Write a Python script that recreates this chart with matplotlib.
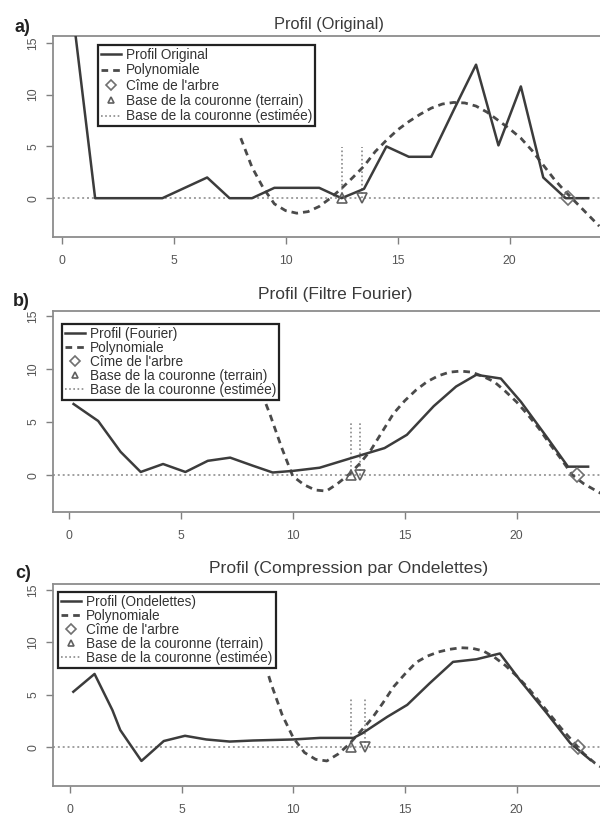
import numpy as np
import matplotlib.pyplot as plt

plt.rcParams['font.family'] = ['Liberation Sans', 'DejaVu Sans']

# a) profil original
orig_x = [0.5, 1.5, 2.5, 3.5, 4.5, 5.5, 6.5, 7.5, 8.5, 9.5, 10.5, 11.5,
          12.5, 13.5, 14.5, 15.5, 16.5, 17.5, 18.5, 19.5, 20.5, 21.5, 22.5, 23.5]
orig_y = [18.0, 0, 0, 0, 0, 1.0, 2.0, 0, 0, 1.0, 1.0, 1.0,
          0, 0.9, 5.0, 4.0, 4.0, 8.5, 12.9, 5.1, 10.8, 2.0, 0, 0]
poly_a_x = [8.0, 8.5, 9.0, 9.5, 10.0, 10.5, 11.0, 11.5, 12.0, 12.5, 13.0, 13.5,
            14.0, 14.5, 15.0, 15.5, 16.0, 16.5, 17.0, 17.5, 18.0, 18.5, 19.0,
            19.5, 20.0, 20.5, 21.0, 21.5, 22.0, 22.5, 23.0, 23.5, 24.0]
poly_a_y = [5.8, 3.0, 1.0, -0.55, -1.2, -1.45, -1.3, -0.8, 0.0, 0.95, 2.0, 3.1,
            4.5, 5.6, 6.6, 7.4, 8.1, 8.7, 9.1, 9.25, 9.2, 8.9, 8.3,
            7.5, 6.7, 5.8, 4.6, 3.2, 1.8, 0.6, -0.5, -1.6, -2.7]

# b) filtre de Fourier
fourier_x = [0.2, 1.3, 2.3, 3.2, 4.2, 5.2, 6.2, 7.2, 8.2, 9.1, 10.0, 11.2,
             12.6, 14.1, 15.1, 16.3, 17.3, 18.2, 19.3, 20.2, 21.4, 22.3, 23.2]
fourier_y = [6.7, 5.1, 2.2, 0.3, 1.05, 0.3, 1.35, 1.65, 0.9, 0.25, 0.4, 0.7,
             1.6, 2.55, 3.8, 6.5, 8.35, 9.45, 9.1, 6.9, 3.45, 0.8, 0.8]
poly_b_x = [8.8, 9.0, 9.5, 10.0, 10.5, 11.0, 11.5, 12.0, 12.5, 13.0, 13.5,
            14.0, 14.5, 15.0, 15.5, 16.0, 16.5, 17.0, 17.5, 18.0, 18.5, 19.0,
            19.5, 20.0, 20.5, 21.0, 21.5, 22.0, 22.5, 23.0, 23.5, 23.8]
poly_b_y = [6.7, 5.6, 2.6, -0.1, -0.9, -1.4, -1.5, -0.8, 0.05, 1.1, 2.4,
            4.1, 5.8, 7.0, 8.0, 8.8, 9.35, 9.7, 9.8, 9.7, 9.3, 8.8,
            7.9, 6.9, 5.7, 4.4, 2.9, 1.5, 0.0, -0.8, -1.4, -1.75]

# c) compression par ondelettes
ondel_x = [0.15, 1.1, 1.9, 2.25, 3.2, 4.2, 5.15, 6.1, 7.15, 8.2, 9.1, 10.0,
           11.2, 12.7, 13.1, 14.2, 15.1, 16.1, 17.15, 18.2, 19.25, 20.15,
           21.35, 22.4, 23.3]
ondel_y = [5.3, 7.0, 3.55, 1.65, -1.3, 0.6, 1.1, 0.75, 0.55, 0.65, 0.7, 0.75,
           0.9, 0.9, 1.35, 2.9, 4.05, 6.1, 8.15, 8.4, 8.95, 6.4,
           3.25, 0.4, -1.2]
poly_c_x = [8.9, 9.0, 9.5, 10.0, 10.5, 11.0, 11.5, 12.0, 12.5, 13.0, 13.5,
            14.0, 14.5, 15.0, 15.5, 16.0, 16.5, 17.0, 17.5, 18.0, 18.5, 19.0,
            19.5, 20.0, 20.5, 21.0, 21.5, 22.0, 22.5, 23.0, 23.5, 23.75]
poly_c_y = [6.8, 6.1, 3.1, 0.9, -0.5, -1.15, -1.3, -0.65, 0.3, 1.5, 2.7,
            4.2, 5.8, 7.0, 8.1, 8.7, 9.1, 9.35, 9.5, 9.45, 9.2, 8.6,
            7.8, 6.8, 5.7, 4.4, 3.1, 1.8, 0.6, -0.6, -1.5, -1.85]

# base de la couronne (terrain / estimée), cîme, hauteur des traits verticaux
base_terrain_x = [12.5, 12.6, 12.6]
base_estimee_x = [13.4, 13.0, 13.2]
cime_x = [22.6, 22.7, 22.75]
vline_top = [4.9, 5.0, 4.8]

profil_labels = ['Profil Original', 'Profil (Fourier)', 'Profil (Ondelettes)']
titles = ['Profil (Original)', 'Profil (Filtre Fourier)',
          'Profil (Compression par Ondelettes)']
panel_tags = ['a)', 'b)', 'c)']
legend_entries = ['Polynomiale', "Cîme de l'arbre",
                  'Base de la couronne (terrain)', 'Base de la couronne (estimée)']
x_ticks = [0, 5, 10, 15, 20]
y_ticks = [0, 5, 10, 15]

W, H = 600, 816
fig = plt.figure(figsize=(W / 100, H / 100), dpi=100)

# pixel boxes: left, top, bottom ; limits
boxes = [(53, 36, 237), (53, 311, 512), (53, 584, 786)]
xlims = [(-0.38, 24.3), (-0.72, 24.0), (-0.76, 24.0)]
ylims = [(-3.75, 15.67), (-3.47, 15.46), (-3.69, 15.58)]
title_pos = [(329, 24, 11.8), (335, 295, 12.5), (349, 569, 12.6)]
tag_pos = [(22, 27), (21, 302), (23, 573)]
legend_anchor = [(0.081, 0.955), (0.016, 0.935), (0.009, 0.96)]
legend_spacing = [0.1, 0.0, 0.0]

series = [(orig_x, orig_y, poly_a_x, poly_a_y),
          (fourier_x, fourier_y, poly_b_x, poly_b_y),
          (ondel_x, ondel_y, poly_c_x, poly_c_y)]

dark = '#3c3c3c'
for i, (px, py, qx, qy) in enumerate(series):
    left, top, bottom = boxes[i]
    ax = fig.add_axes([left / W, 1 - bottom / H, 553 / W, (bottom - top) / H])
    ax.axhline(0, color='#a0a0a0', lw=1.4, ls=(0, (1, 1.5)), zorder=1)
    ax.vlines([base_terrain_x[i], base_estimee_x[i]], 0, vline_top[i],
              colors='#8a8a8a', lw=1.2, linestyles=(0, (1, 1.5)), zorder=2)
    h_prof, = ax.plot(px, py, color=dark, lw=1.8, zorder=4)
    h_poly, = ax.plot(qx, qy, color='#4a4a4a', lw=2.0, ls=(0, (2.4, 1.8)), zorder=3)
    h_cime, = ax.plot([cime_x[i]], [0], ls='none', marker='D', ms=7, mfc='none',
                      mec='#707070', mew=1.2, zorder=5)
    h_base, = ax.plot([base_terrain_x[i]], [0], ls='none', marker='^', ms=7,
                      mfc='none', mec='#606060', mew=1.2, zorder=5)
    ax.plot([base_estimee_x[i]], [0], ls='none', marker='v', ms=7, mfc='none',
            mec='#606060', mew=1.2, zorder=5)
    h_est, = ax.plot([], [], color='#8a8a8a', lw=1.2, ls=(0, (1, 1.5)))

    ax.set_xlim(xlims[i])
    ax.set_ylim(ylims[i])
    ax.set_xticks(x_ticks)
    ax.set_yticks(y_ticks)
    ax.tick_params(direction='out', length=5, width=1, color='#808080',
                   labelsize=8.8, labelcolor='#555555', pad=8)
    ax.tick_params(axis='y', labelrotation=90, pad=5)
    for lab in ax.get_yticklabels():
        lab.set_va('center')
    for s in ax.spines.values():
        s.set_color('#8c8c8c')
        s.set_linewidth(1.3)

    leg = ax.legend([h_prof, h_poly, h_cime, h_base, h_est],
                    [profil_labels[i]] + legend_entries,
                    loc='upper left', bbox_to_anchor=legend_anchor[i],
                    fontsize=9.8, frameon=True, fancybox=False, framealpha=1,
                    edgecolor='#222222', borderpad=0.22,
                    labelspacing=legend_spacing[i],
                    handlelength=1.5, handletextpad=0.35, borderaxespad=0,
                    markerscale=0.7)
    leg.get_frame().set_linewidth(1.6)
    for t in leg.get_texts():
        t.set_color('#333333')

    tx, ty, tfs = title_pos[i]
    fig.text(tx / W, 1 - ty / H, titles[i], ha='center', va='center',
             fontsize=tfs, color='#3a3a3a')
    gx, gy = tag_pos[i]
    fig.text(gx / W, 1 - gy / H, panel_tags[i], ha='center', va='center',
             fontsize=13, fontweight='bold', color='#222222')

fig.savefig('out.png', dpi=100)
